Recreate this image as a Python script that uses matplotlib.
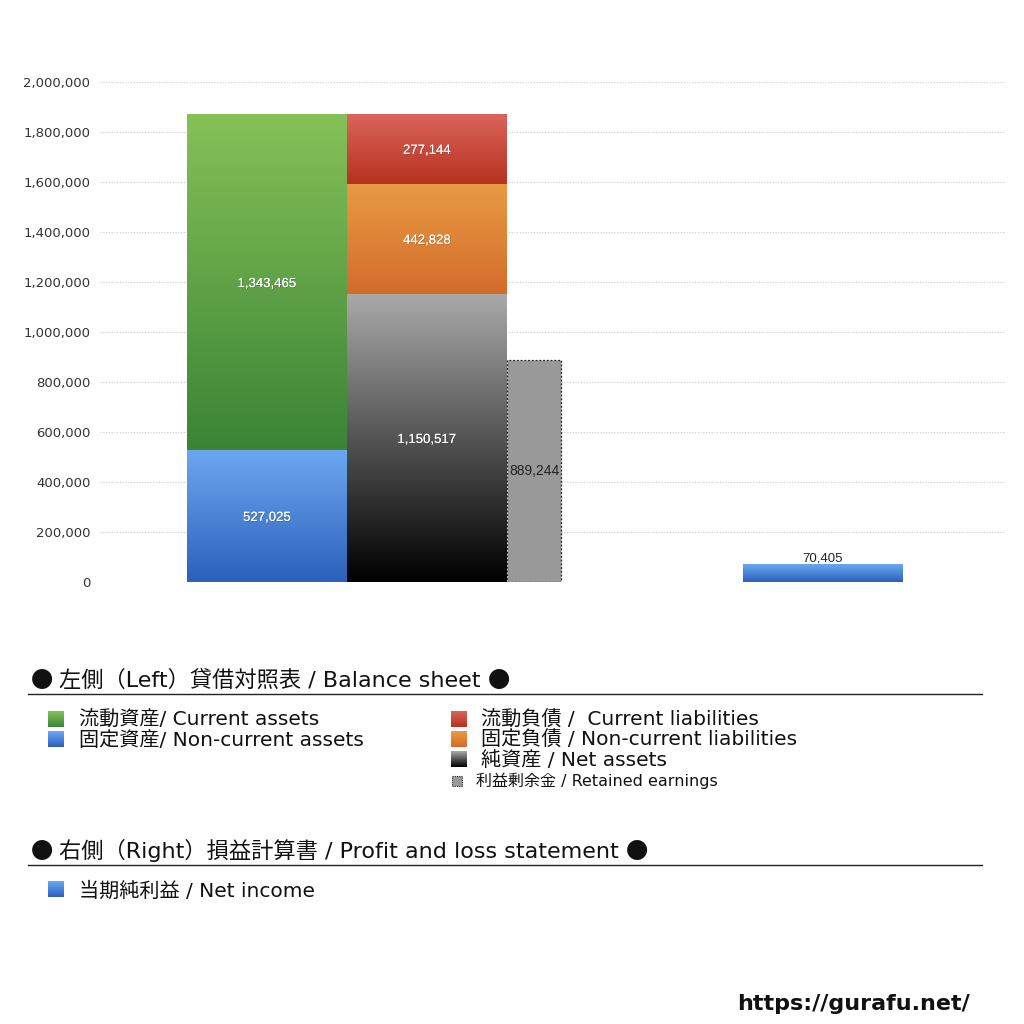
import matplotlib
matplotlib.use("Agg")
import matplotlib.pyplot as plt
import matplotlib.patheffects as pe
from matplotlib.colors import LinearSegmentedColormap
from matplotlib.patches import Rectangle
import numpy as np

plt.rcParams['font.family'] = ['DejaVu Sans', 'Noto Sans CJK JP']
CJK = ['Noto Sans CJK JP', 'DejaVu Sans']

# data
left_assets = [527025, 1343465]          # 固定資産, 流動資産 (bottom -> top)
right_liab = [1150517, 442828, 277144]   # 純資産, 固定負債, 流動負債 (bottom -> top)
retained = 889244
net_income = 70405
yticks = [0, 200000, 400000, 600000, 800000, 1000000, 1200000, 1400000, 1600000, 1800000, 2000000]

# gradients (top, bottom)
c_blue = ('#6ca8f0', '#2b60bb')
c_green = ('#86c157', '#3a8436')
c_black = ('#a9a9a9', '#000000')
c_orange = ('#e89b42', '#d36c2c')
c_red = ('#da645b', '#b7321f')

W, H = 1024, 1024
fig = plt.figure(figsize=(W / 100, H / 100), dpi=100)

def fx(x):
    return x / W

def fy(y):
    return 1 - y / H

ax = fig.add_axes([fx(100), fy(582), fx(1005) - fx(100), fy(82) - fy(582)])


def grad_bar(x, h, w, bottom, cols, **kw):
    bar = ax.bar(x, h, w, bottom=bottom, color='none', linewidth=0, zorder=3, **kw)[0]
    cmap = LinearSegmentedColormap.from_list('g', [cols[1], cols[0]])
    g = np.linspace(0, 1, 256).reshape(-1, 1)
    im = ax.imshow(g, extent=[x - w / 2, x + w / 2, bottom, bottom + h], origin='lower',
                   aspect='auto', cmap=cmap, zorder=2)
    im.set_clip_path(bar)
    return bar


def label(x, y, v, color='white', shadow=True, size=9.5, dy=-7000):
    t = ax.text(x, y + dy, f'{v:,}', ha='center', va='center', color=color, fontsize=size,
                family='Liberation Sans', zorder=5)
    if shadow:
        t.set_path_effects([pe.withSimplePatchShadow(offset=(0.4, -0.4), shadow_rgbFace='#333333', alpha=0.45),
                            pe.Normal()])

# left stack
grad_bar(167, left_assets[0], 160, 0, c_blue)
grad_bar(167, left_assets[1], 160, left_assets[0], c_green)
label(167, left_assets[0] / 2, left_assets[0])
label(167, left_assets[0] + left_assets[1] / 2, left_assets[1])

# right stack
cols = [c_black, c_orange, c_red]
b = 0
for v, c in zip(right_liab, cols):
    grad_bar(327, v, 160, b, c)
    label(327, b + v / 2, v)
    b += v

# retained earnings
ax.bar(434, retained, 54, color='#999999', edgecolor='#222222', linestyle=(0, (1.5, 1.5)),
       linewidth=0.9, zorder=3)
label(434, retained / 2, retained, color='#222222', shadow=False, size=10, dy=0)

# net income
grad_bar(723, net_income, 160, 0, c_blue)
ax.text(723, net_income + 22000, f'{net_income:,}', ha='center', va='center', fontsize=9.5,
        color='#222222', family='Liberation Sans')

ax.set_xlim(0, 905)
ax.set_ylim(0, 2000000)
ax.set_yticks(yticks)
ax.set_yticklabels([f'{v:,}' for v in yticks], fontsize=9.5, color='#333333')
ax.set_xticks([])
ax.tick_params(axis='y', length=0, pad=7)
for s in ax.spines.values():
    s.set_visible(False)
ax.grid(axis='y', color='#c8c8c8', linestyle=(0, (1, 1.5)), linewidth=0.8, zorder=0)
ax.set_axisbelow(True)

renderer = fig.canvas.get_renderer()


# legend area
def header(base_y, txt, line_y):
    x = fx(31)
    for part, fam, gap in [('●', CJK, 6), (txt, None, 7), ('●', CJK, 0)]:
        kw = dict(family=fam) if fam else {}
        t = fig.text(x, fy(base_y), part, fontsize=16, va='baseline', ha='left', color='#111111', **kw)
        bb = t.get_window_extent(renderer)
        x = fx(bb.x1 + gap)
    fig.add_artist(plt.Line2D([fx(28), fx(982)], [fy(line_y), fy(line_y)], color='#222222', lw=1))


def swatch(x, y, size, cols, dotted=False):
    sax = fig.add_axes([fx(x), fy(y + size), fx(size), size / H])
    if dotted:
        sax.add_patch(Rectangle((0, 0), 1, 1, facecolor='#999999', edgecolor='#222222',
                                linestyle=(0, (1, 1)), linewidth=0.8))
        sax.set_xlim(-0.05, 1.05)
        sax.set_ylim(-0.05, 1.05)
    else:
        cmap = LinearSegmentedColormap.from_list('g', [cols[1], cols[0]])
        sax.imshow(np.linspace(0, 1, 64).reshape(-1, 1), origin='lower', aspect='auto', cmap=cmap)
    sax.axis('off')


header(687, '左側（Left）貸借対照表 / Balance sheet', 694)
header(858, '右側（Right）損益計算書 / Profit and loss statement', 865)

items_left = [('流動資産/ Current assets', c_green, 719), ('固定資産/ Non-current assets', c_blue, 739)]
items_right = [('流動負債 /  Current liabilities', c_red, 719), ('固定負債 / Non-current liabilities', c_orange, 739),
               ('純資産 / Net assets', c_black, 759)]
for txt, c, y in items_left:
    swatch(48, y - 8, 16, c)
    fig.text(fx(79), fy(y + 1), txt, fontsize=14.5, va='center', ha='left', color='#111111')
for txt, c, y in items_right:
    swatch(451, y - 8, 16, c)
    fig.text(fx(481), fy(y + 1), txt, fontsize=14.5, va='center', ha='left', color='#111111')
swatch(451, 775, 12, None, dotted=True)
fig.text(fx(476), fy(781), '利益剰余金 / Retained earnings', fontsize=11.5, va='center', ha='left', color='#111111')

swatch(48, 881, 16, c_blue)
fig.text(fx(79), fy(891), '当期純利益 / Net income', fontsize=14.5, va='center', ha='left', color='#111111')

fig.text(fx(970), fy(1004), 'https://gurafu.net/', fontsize=16, fontweight='bold', ha='right', va='center',
         color='#111111')

fig.savefig('out.png', dpi=100)
